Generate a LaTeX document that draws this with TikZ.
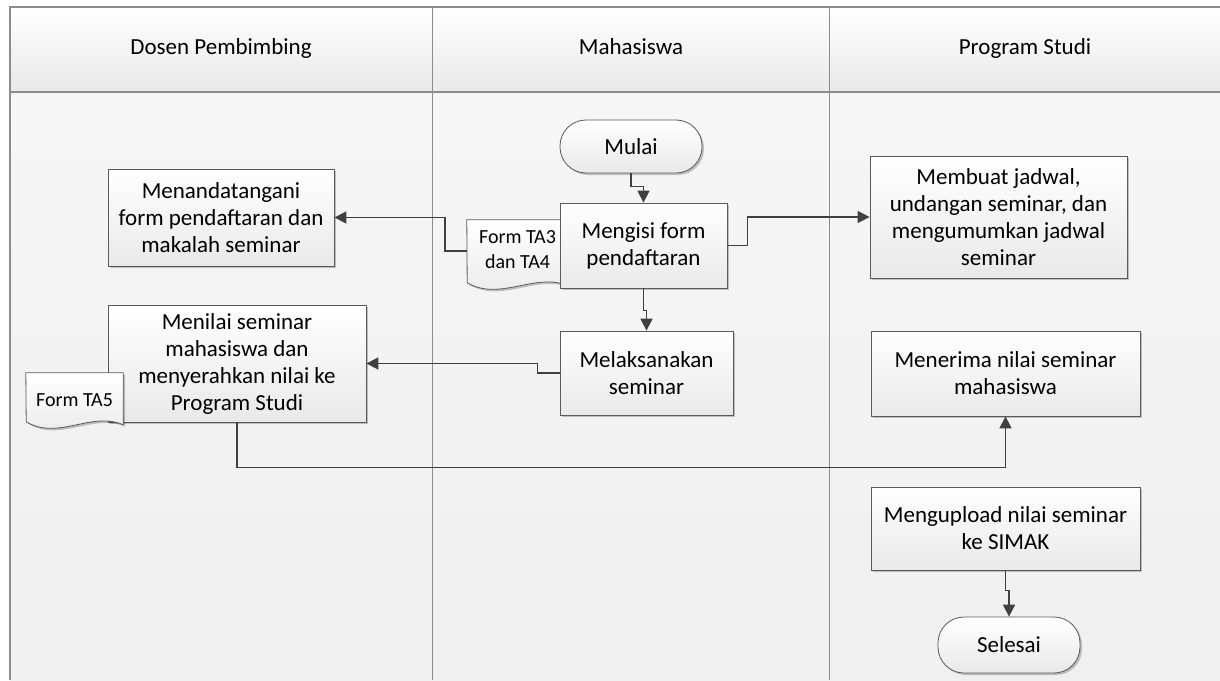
\documentclass[tikz,border=0pt]{standalone}
\usepackage{fontspec}
\setmainfont{Carlito}
\usetikzlibrary{arrows.meta,shadows}
\definecolor{laneline}{HTML}{8C8C8C}
\definecolor{boxline}{HTML}{5A5A5A}
\definecolor{boxfill}{HTML}{E9E9E9}
\definecolor{flowline}{HTML}{404040}
\tikzset{
  proc/.style={draw=boxline, line width=0.8pt, top color=white, bottom color=boxfill,
    drop shadow={shadow xshift=2pt, shadow yshift=-2pt, fill=black, opacity=0.22},
    align=center, inner sep=2pt, font=\fontsize{23}{27}\selectfont},
  term/.style={proc, rounded corners=26pt},
  docbox/.style={align=center, inner sep=0pt, font=\fontsize{20}{25}\selectfont},
  docline/.style={draw=boxline, line width=0.8pt, top color=white, bottom color=boxfill,
    drop shadow={shadow xshift=2pt, shadow yshift=-2pt, fill=black, opacity=0.22}},
  flow/.style={draw=flowline, line width=1.6pt, -{Triangle[length=12pt,width=12pt]}},
  lanehead/.style={anchor=base, font=\fontsize{23}{27}\selectfont}
}
\begin{document}
\begin{tikzpicture}[x=1pt,y=-1pt]
\useasboundingbox (0,0) rectangle (1220,680);

% lanes
\fill[top color=white, bottom color=boxfill] (10,7) rectangle (1220,92);
\fill[top color=white!60!boxfill, bottom color=boxfill!70!white] (10,92) rectangle (1220,680);
\draw[laneline, line width=1.6pt] (10,680) -- (10,7) -- (1220,7);
\draw[laneline, line width=1.6pt] (10,92) -- (1220,92);
\draw[laneline, line width=1pt] (432,7) -- (432,680);
\draw[laneline, line width=1pt] (829,7) -- (829,680);

\node[lanehead] (dosen) at (221,54) {Dosen Pembimbing};
\node[lanehead] (mhs) at (631,54) {Mahasiswa};
\node[lanehead] (prodi) at (1025,54) {Program Studi};

% Mahasiswa
\node[term, minimum width=142pt, minimum height=53pt] (mulai) at (631,146.5) {Mulai};

\node[docbox, minimum width=101pt, minimum height=62pt] (ta34) at (517.5,251) {};
\draw[docline] (ta34.north west) -- (ta34.north east) -- ++(0,66)
  .. controls +(-33,-14) and +(33,19) .. ++(-101,-3) -- cycle;
\node[docbox] at ([yshift=1pt]ta34) {Form TA3\\dan TA4};

\node[proc, minimum width=167pt, minimum height=85pt] (mengisi) at (643.5,245.5) {Mengisi form\\pendaftaran};
\node[proc, minimum width=173pt, minimum height=84pt] (laksana) at (646.5,373) {Melaksanakan\\seminar};

% Dosen Pembimbing
\node[proc, minimum width=226pt, minimum height=97pt] (tanda) at (221,217.5) {Menandatangani\\form pendaftaran dan\\makalah seminar};
\node[proc, minimum width=258pt, minimum height=117pt] (nilai) at (237,363.5) {Menilai seminar\\mahasiswa dan\\menyerahkan nilai ke\\Program Studi};

\node[docbox, minimum width=97pt, minimum height=50pt] (ta5) at (74.5,398) {};
\draw[docline] (ta5.north west) -- (ta5.north east) -- ++(0,52)
  .. controls +(-32,-14) and +(32,19) .. ++(-97,-3) -- cycle;
\node[docbox] at ([yshift=-2pt]ta5) {Form TA5};

% Program Studi
\node[proc, minimum width=257pt, minimum height=122pt] (jadwal) at (998.5,217) {Membuat jadwal,\\undangan seminar, dan\\mengumumkan jadwal\\seminar};
\node[proc, minimum width=269pt, minimum height=85pt] (terima) at (1005.5,373.5) {Menerima nilai seminar\\mahasiswa};
\node[proc, minimum width=269pt, minimum height=83pt] (upload) at (1005.5,528.5) {Mengupload nilai seminar\\ke SIMAK};
\node[term, minimum width=142pt, minimum height=56pt] (selesai) at (1009,645) {Selesai};

% connectors
\draw[flow] (mulai.south) -- ++(0,13) -| (mengisi.north);
\draw[flow] (mengisi.south) -- ++(0,22) -| (laksana.north);
\draw[flow] (ta34.west) -- ++(-22,0) |- (tanda.east);
\draw[flow] (mengisi.east) -- ++(20,0) |- (jadwal.west);
\draw[flow] (laksana.west) -- ++(-22,0) |- (nilai.east);
\draw[flow] (nilai.south) -- ++(0,45) -| (terima.south);
\draw[flow] (upload.south) -- ++(0,20) -| (selesai.north);

\end{tikzpicture}
\end{document}
